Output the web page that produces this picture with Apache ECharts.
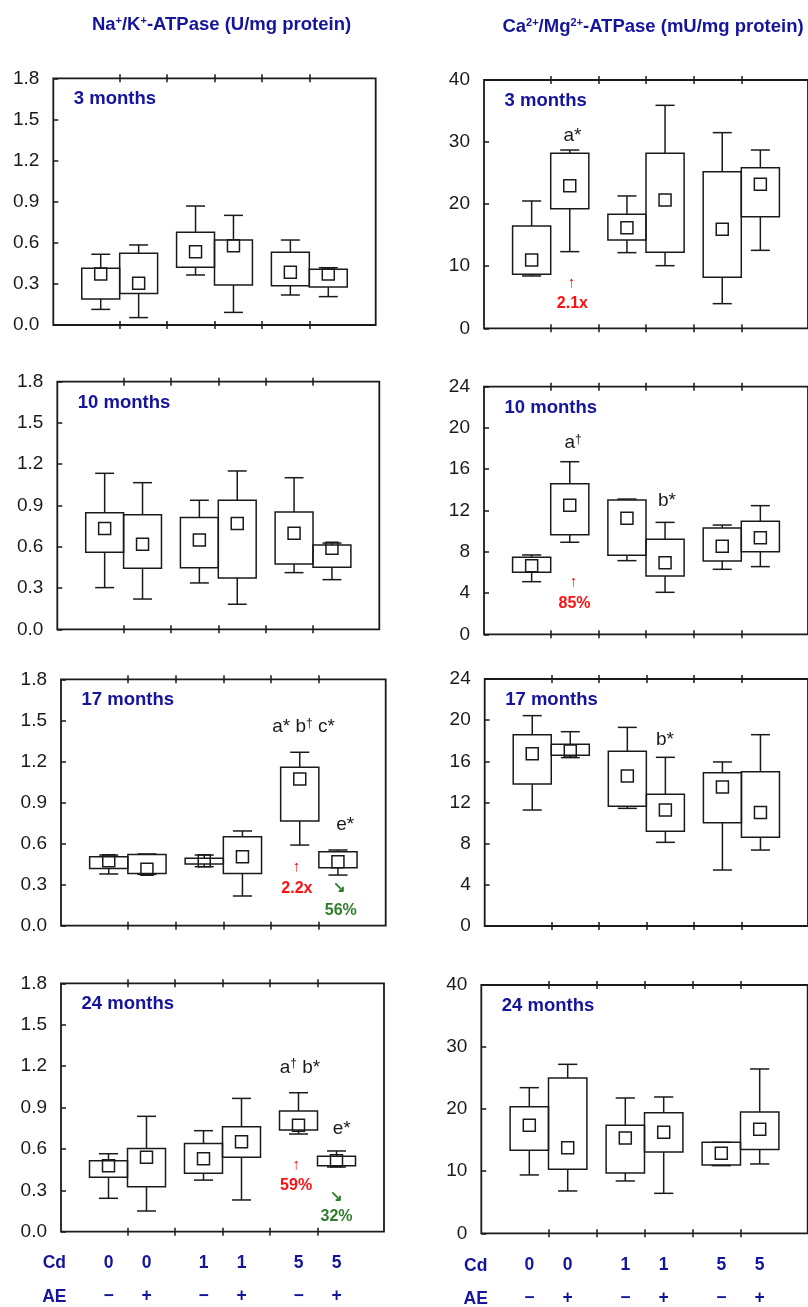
<!DOCTYPE html>
<html><head><meta charset="utf-8">
<script src="https://cdn.jsdelivr.net/npm/echarts@6/dist/echarts.min.js"></script>
<style>html,body{margin:0;padding:0;background:#fff}#c{width:808px;height:1307px}</style>
</head><body><div id="c"></div>
<script>
// ---- data ----
const cdLevels = ['0', '0', '1', '1', '5', '5'];
const aeLevels = ['\u2212', '+', '\u2212', '+', '\u2212', '+'];
const monthLabels = ['3 months', '10 months', '17 months', '24 months'];
// each box: [lower whisker, Q1, Q3, upper whisker, mean]
const naK_3m = [[0.114,0.19,0.414,0.516,0.372],[0.054,0.229,0.523,0.584,0.304],[0.365,0.421,0.676,0.868,0.535],[0.092,0.292,0.62,0.80,0.579],[0.219,0.287,0.53,0.62,0.384],[0.207,0.277,0.406,0.418,0.372]];
const naK_10m = [[0.303,0.56,0.848,1.134,0.732],[0.22,0.443,0.833,1.066,0.618],[0.337,0.448,0.812,0.938,0.649],[0.182,0.373,0.938,1.151,0.77],[0.412,0.475,0.853,1.102,0.698],[0.361,0.451,0.613,0.627,0.589]];
const naK_17m = [[0.378,0.417,0.504,0.516,0.475],[0.375,0.382,0.52,0.524,0.412],[0.431,0.451,0.492,0.516,0.475],[0.217,0.382,0.65,0.692,0.504],[0.589,0.765,1.157,1.267,1.072],[0.37,0.424,0.541,0.553,0.468]];
const naK_24m = [[0.242,0.394,0.515,0.565,0.478],[0.15,0.326,0.602,0.836,0.539],[0.374,0.423,0.64,0.732,0.529],[0.23,0.539,0.761,0.966,0.652],[0.708,0.737,0.875,1.007,0.771],[0.469,0.478,0.546,0.585,0.515]];
const caMg_3m = [[8.43,8.70,16.48,20.51,11.0],[12.35,19.27,28.19,28.72,22.98],[12.19,14.23,18.36,21.32,16.21],[10.09,12.24,28.19,35.92,20.67],[3.97,8.21,25.23,31.52,15.95],[12.56,17.99,25.88,28.72,23.19]];
const caMg_10m = [[5.10,6.01,7.46,7.69,6.65],[8.92,9.66,14.60,16.73,12.50],[7.14,7.66,13.02,13.11,11.24],[4.07,5.65,9.21,10.85,6.94],[6.30,7.11,10.30,10.59,8.53],[6.56,8.01,10.95,12.47,9.37]];
const caMg_17m = [[11.27,13.80,18.59,20.44,16.74],[16.36,16.58,17.65,18.88,17.0],[11.43,11.63,16.97,19.30,14.57],[8.13,9.20,12.79,16.39,11.27],[5.44,10.04,14.90,15.94,13.51],[7.38,8.62,15.0,18.59,11.04]];
const caMg_24m = [[9.40,13.37,20.40,23.46,17.40],[6.82,10.31,25.02,27.22,13.80],[8.43,9.72,17.40,21.80,15.36],[6.44,13.10,19.44,21.96,16.27],[10.9,11.0,14.66,14.66,12.89],[11.17,13.48,19.54,26.47,16.75]];
const naKTicks = [0, 1.8, 0.3];
const caMgTicks40 = [0, 40, 10];
const caMgTicks24 = [0, 24, 4];
// annotations: [x, y, text, kind]
const notesNaK17 = [[4.68,1.45,'a* b{d|\u2020} c*','sig'],[5.55,0.736,'e*','sig'],[4.53,0.431,'\u2191','up'],[4.54,0.273,'2.2x','upv'],[5.44,0.273,'\u2198','dn'],[5.46,0.114,'56%','dnv']];
const notesNaK24 = [[4.63,1.19,'a{d|\u2020} b*','sig'],[5.51,0.749,'e*','sig'],[4.55,0.483,'\u2191','up'],[4.55,0.331,'59%','upv'],[5.40,0.254,'\u2198','dn'],[5.40,0.109,'32%','dnv']];
const notesCa3 = [[1.455,30.98,'a*','sig'],[1.434,7.25,'\u2191','up'],[1.455,4.03,'2.1x','upv']];
const notesCa10 = [[1.47,18.57,'a{d|\u2020}','sig'],[3.44,12.92,'b*','sig'],[1.48,5.10,'\u2191','up'],[1.50,3.0,'85%','upv']];
const notesCa17 = [[3.39,18.14,'b*','sig']];

// ---- layout / style ----
const FONT = 'Liberation Sans, Arial, sans-serif';
const NAVY = '#14149c';
const INK = '#1a1a1a';
const gridBoxes = [
  [53.3,78.3,322.4,246.7],[484,80,327.4,248.3],
  [57.3,381.7,322,247.6],[484,386.7,327.4,247.6],
  [61,679.3,324.7,246.4],[484.7,679,327.4,247],
  [61,983.3,323,248.4],[481.3,985,326.4,248.3]
];
const panels = [
  {boxes: naK_3m, ticks: naKTicks, notes: [], month: 0, dec: 1},
  {boxes: caMg_3m, ticks: caMgTicks40, notes: notesCa3, month: 0, dec: 0},
  {boxes: naK_10m, ticks: naKTicks, notes: [], month: 1, dec: 1},
  {boxes: caMg_10m, ticks: caMgTicks24, notes: notesCa10, month: 1, dec: 0},
  {boxes: naK_17m, ticks: naKTicks, notes: notesNaK17, month: 2, dec: 1},
  {boxes: caMg_17m, ticks: caMgTicks24, notes: notesCa17, month: 2, dec: 0},
  {boxes: naK_24m, ticks: naKTicks, notes: notesNaK24, month: 3, dec: 1},
  {boxes: caMg_24m, ticks: caMgTicks40, notes: [], month: 3, dec: 0}
];
const groupTicks = [1, 2, 3, 4, 5];
function boxPos(j) { return 1 + 2 * Math.floor(j / 2) + (j % 2 ? 0.4 : -0.4); }
const boxCenters = cdLevels.map((_, j) => boxPos(j));

function renderBox(params, api) {
  const x = api.value(0);
  const lo = api.coord([x, api.value(1)]);
  const q1 = api.coord([x, api.value(2)]);
  const q3 = api.coord([x, api.value(3)]);
  const hi = api.coord([x, api.value(4)]);
  const mn = api.coord([x, api.value(5)]);
  const bw = api.size([0.8, 0])[0];
  const cw = bw / 2;
  const cx = q1[0];
  const ls = {stroke: INK, lineWidth: 1.5, fill: 'none'};
  return {type: 'group', children: [
    {type: 'line', shape: {x1: cx, y1: q3[1], x2: cx, y2: hi[1]}, style: ls},
    {type: 'line', shape: {x1: cx - cw / 2, y1: hi[1], x2: cx + cw / 2, y2: hi[1]}, style: ls},
    {type: 'line', shape: {x1: cx, y1: q1[1], x2: cx, y2: lo[1]}, style: ls},
    {type: 'line', shape: {x1: cx - cw / 2, y1: lo[1], x2: cx + cw / 2, y2: lo[1]}, style: ls},
    {type: 'rect', shape: {x: cx - bw / 2, y: q3[1], width: bw, height: q1[1] - q3[1]}, style: ls},
    {type: 'rect', shape: {x: cx - 6, y: mn[1] - 6, width: 12, height: 12}, style: ls}
  ]};
}
const noteStyles = {
  sig: {fontSize: 19, fontWeight: 'normal', fill: INK},
  up: {fontSize: 15, fontWeight: 'normal', fill: '#ff1010'},
  upv: {fontSize: 16, fontWeight: 'bold', fill: '#ff1010'},
  dn: {fontSize: 15, fontWeight: 'bold', fill: '#2e7d2e'},
  dnv: {fontSize: 16, fontWeight: 'bold', fill: '#2e7d2e'}
};
function makeNoteRenderer(notes) {
  return function (params, api) {
    const n = notes[params.dataIndex];
    const p = api.coord([api.value(0), api.value(1)]);
    const st = noteStyles[n[3]];
    return {type: 'text', x: p[0], y: p[1], style: {
      text: n[2], fontFamily: FONT, fontSize: st.fontSize, fontWeight: st.fontWeight, fill: st.fill,
      align: 'center', verticalAlign: 'middle',
      rich: {d: {fontSize: 12, fill: st.fill, fontFamily: FONT, verticalAlign: 'top', padding: [0, 0, 6, 0]}}
    }};
  };
}

const grid = [], xAxis = [], yAxis = [], series = [], graphic = [];
panels.forEach((p, i) => {
  const g = gridBoxes[i];
  grid.push({left: g[0], top: g[1], width: g[2], height: g[3], show: true, borderColor: INK, borderWidth: 1.8});
  const tickStyle = {color: INK, width: 1.5};
  const baseX = {type: 'value', gridIndex: i, min: -0.4, max: 6.4, splitLine: {show: false}, axisLine: {show: false, onZero: false}, axisLabel: {show: false}};
  const bottomRow = i >= 6;
  xAxis.push(Object.assign({}, baseX, {position: 'bottom', axisTick: {show: true, inside: true, length: 4, customValues: groupTicks, lineStyle: tickStyle}}));
  xAxis.push(Object.assign({}, baseX, {position: 'bottom', axisTick: {show: true, inside: false, length: 4, customValues: groupTicks, lineStyle: tickStyle},
    axisLabel: bottomRow ? {show: true, customValues: boxCenters, margin: 15,
      formatter: v => { const j = boxCenters.findIndex(c => Math.abs(c - v) < 1e-6); return j < 0 ? '' : '{c|' + cdLevels[j] + '}\n{a|' + aeLevels[j] + '}'; },
      rich: {c: {fontSize: 17.5, fontWeight: 'bold', color: NAVY, fontFamily: FONT, lineHeight: 33},
             a: {fontSize: 17.5, fontWeight: 'bold', color: NAVY, fontFamily: FONT, lineHeight: 33}}} : {show: false}}));
  xAxis.push(Object.assign({}, baseX, {position: 'top', axisTick: {show: true, inside: true, length: 4, customValues: groupTicks, lineStyle: tickStyle}}));
  xAxis.push(Object.assign({}, baseX, {position: 'top', axisTick: {show: true, inside: false, length: 4, customValues: groupTicks, lineStyle: tickStyle}}));
  yAxis.push({type: 'value', gridIndex: i, position: 'left', min: p.ticks[0], max: p.ticks[1], interval: p.ticks[2],
    splitLine: {show: false}, axisLine: {show: false, onZero: false},
    axisTick: {show: true, inside: true, length: 5, lineStyle: tickStyle},
    axisLabel: {fontSize: 19, color: INK, fontFamily: FONT, margin: 14, formatter: v => v.toFixed(p.dec)}});
  series.push({type: 'custom', xAxisIndex: i * 4, yAxisIndex: i, silent: true, renderItem: renderBox,
    data: p.boxes.map((b, j) => [boxPos(j)].concat(b))});
  if (p.notes.length) {
    series.push({type: 'custom', xAxisIndex: i * 4, yAxisIndex: i, silent: true, renderItem: makeNoteRenderer(p.notes),
      data: p.notes.map(n => [n[0], n[1]])});
  }
  graphic.push({type: 'text', x: g[0] + 20.5, y: g[1] + 21, style: {text: monthLabels[p.month], fontFamily: FONT, fontSize: 18.5, fontWeight: 'bold', fill: NAVY, align: 'left', verticalAlign: 'middle'}});
});
const titleRich = {
  t: {fontSize: 18.5, fontWeight: 'bold', fill: NAVY, color: NAVY, fontFamily: FONT},
  s: {fontSize: 11, fontWeight: 'bold', fill: NAVY, color: NAVY, fontFamily: FONT, verticalAlign: 'top', padding: [0, 0, 6, 0]}
};
graphic.push({type: 'text', x: 221.5, y: 25, style: {text: '{t|Na}{s|+}{t|/K}{s|+}{t|-ATPase (U/mg protein)}', rich: titleRich, align: 'center', verticalAlign: 'middle'}});
graphic.push({type: 'text', x: 653, y: 26.7, style: {text: '{t|Ca}{s|2+}{t|/Mg}{s|2+}{t|-ATPase (mU/mg protein)}', rich: titleRich, align: 'center', verticalAlign: 'middle'}});
[['Cd', 54.3, 1263.3], ['AE', 54.3, 1296.7], ['Cd', 475.7, 1266], ['AE', 475.7, 1299.3]].forEach(t => {
  graphic.push({type: 'text', x: t[1], y: t[2], style: {text: t[0], fontFamily: FONT, fontSize: 17.5, fontWeight: 'bold', fill: NAVY, align: 'center', verticalAlign: 'middle'}});
});

const chart = echarts.init(document.getElementById('c'), null, {renderer: 'canvas'});
chart.setOption({animation: false, backgroundColor: '#fff', grid, xAxis, yAxis, series, graphic});
</script></body></html>
